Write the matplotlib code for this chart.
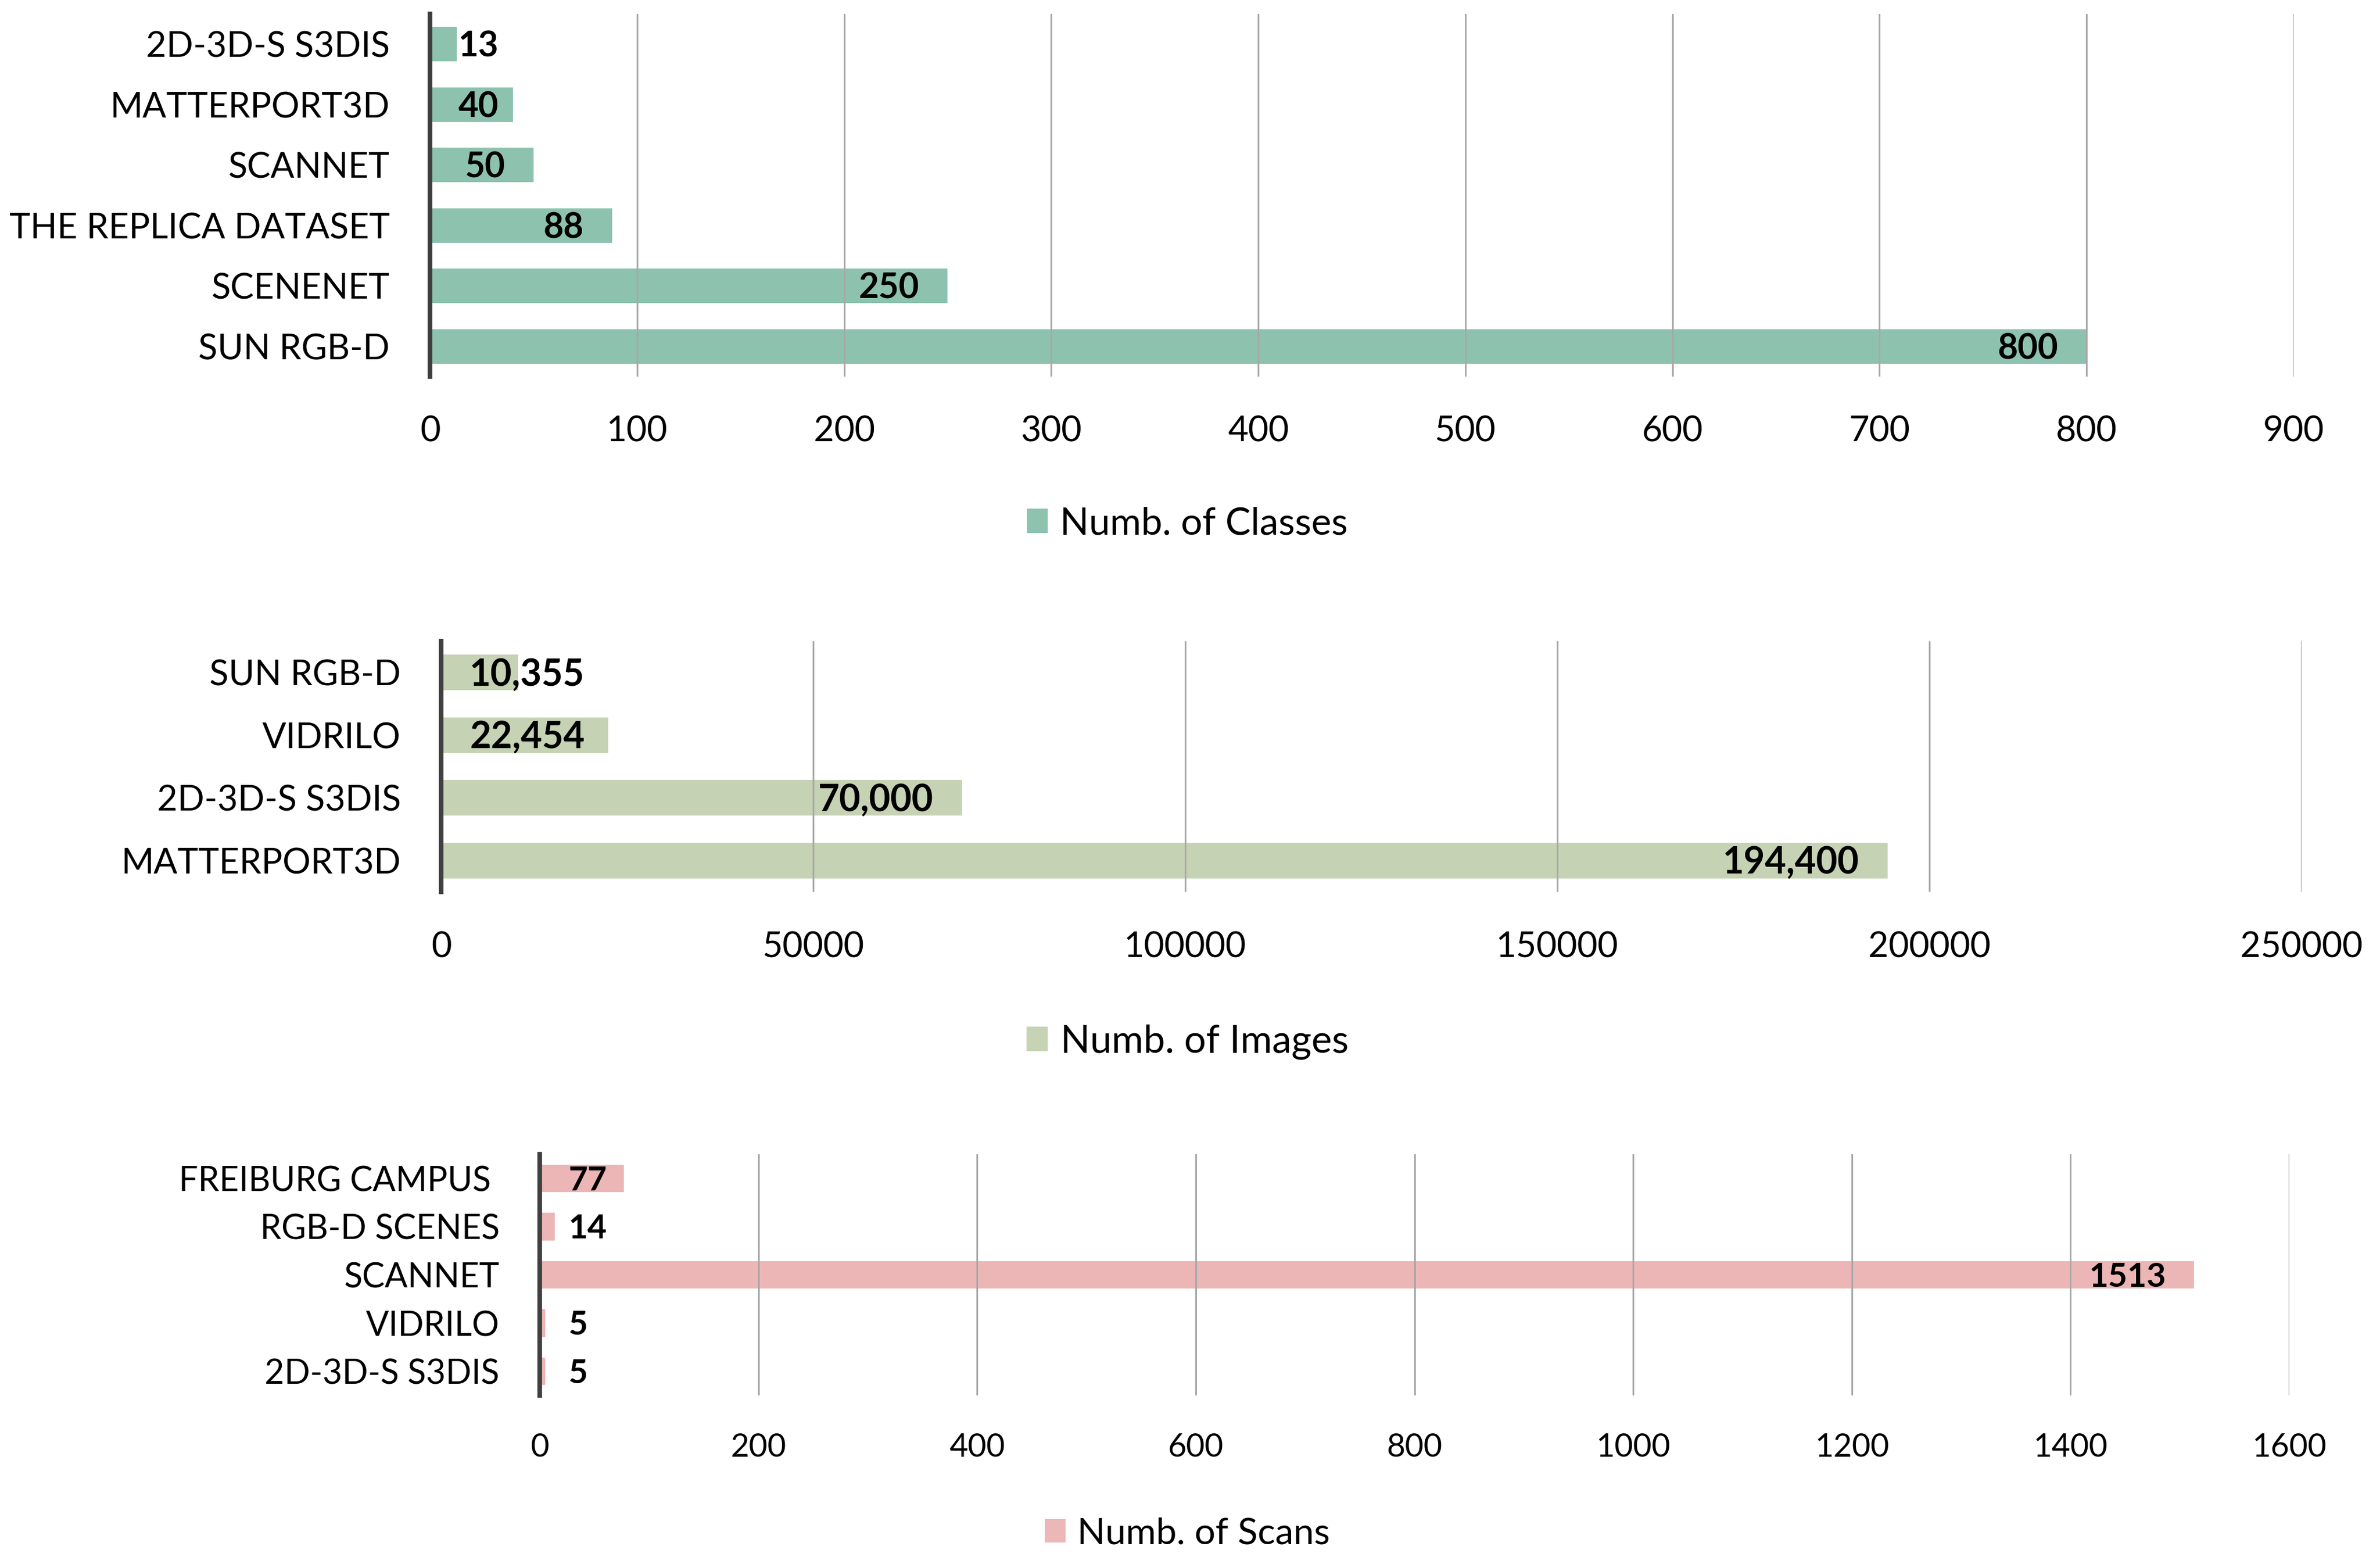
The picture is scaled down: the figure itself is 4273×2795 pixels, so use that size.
import matplotlib
matplotlib.use("Agg")
import matplotlib.pyplot as plt
from matplotlib.patches import Patch
import numpy as np

plt.rcParams['font.family'] = ['Lato', 'DejaVu Sans']

# ---------------- data ----------------
classes_names = ["2D-3D-S S3DIS", "MATTERPORT3D", "SCANNET", "THE REPLICA DATASET", "SCENENET", "SUN RGB-D"]
classes_values = [13, 40, 50, 88, 250, 800]
classes_ticks = [0, 100, 200, 300, 400, 500, 600, 700, 800, 900]

images_names = ["SUN RGB-D", "VIDRILO", "2D-3D-S S3DIS", "MATTERPORT3D"]
images_values = [10355, 22454, 70000, 194400]
images_ticks = [0, 50000, 100000, 150000, 200000, 250000]

scans_names = ["FREIBURG CAMPUS ", "RGB-D SCENES", "SCANNET", "VIDRILO", "2D-3D-S S3DIS"]
scans_values = [77, 14, 1513, 5, 5]
scans_ticks = [0, 200, 400, 600, 800, 1000, 1200, 1400, 1600]

legend_labels = ["Numb. of Classes", "Numb. of Images", "Numb. of Scans"]
colors = ["#8DC3AF", "#C6D3B4", "#ECB7B7"]

W, H = 4273, 2795
DPI = 100
fig = plt.figure(figsize=(W / DPI, H / DPI), dpi=DPI)

ALPHA = 0.85
def base_color(hexc):
    rgb = np.array(matplotlib.colors.to_rgb(hexc))
    c = (rgb - (1 - ALPHA)) / ALPHA
    return tuple(np.clip(c, 0, 1))

panels = [
    dict(names=classes_names, values=classes_values, ticks=classes_ticks,
         box=(772, 4118, 25, 676), fs=45.5, tfs=45.5, lfs=45, gfs=49, xpad=50,
         fmt=lambda v: f"{v}", leg_y=940, leg=legend_labels[0], color=colors[0]),
    dict(names=images_names, values=images_values, ticks=images_ticks,
         box=(792, 4132, 1151, 1601), fs=45.5, tfs=45.5, lfs=47.5, gfs=50, xpad=51,
         fmt=lambda v: f"{v:,}", leg_y=1870, leg=legend_labels[1], color=colors[1]),
    dict(names=scans_names, values=scans_values, ticks=scans_ticks,
         box=(969, 4110, 2072, 2505), fs=43.8, tfs=41.5, lfs=43, gfs=47.5, xpad=48,
         fmt=lambda v: f"{v}", leg_y=2753, leg=legend_labels[2], color=colors[2]),
]

axes = []
for p in panels:
    l, r, t, b = p["box"]
    ax = fig.add_axes([l / W, 1 - b / H, (r - l) / W, (b - t) / H])
    n = len(p["names"])
    pos = np.arange(n)
    ax.barh(pos, p["values"], height=0.57, color=base_color(p["color"]), alpha=ALPHA,
            zorder=1, linewidth=0)
    ax.set_ylim(n - 0.5, -0.5)
    ax.set_xlim(p["ticks"][0], p["ticks"][-1])
    ax.set_yticks(pos)
    ax.set_yticklabels(p["names"], fontsize=p["fs"], color="#000000")
    ax.set_xticks(p["ticks"])
    ax.set_xticklabels([str(t_) for t_ in p["ticks"]], fontsize=p["tfs"], color="#000000")
    ax.tick_params(axis="y", length=0, pad=52)
    ax.tick_params(axis="x", length=0, pad=p["xpad"])
    for s in ["top", "right", "bottom"]:
        ax.spines[s].set_visible(False)
    ax.spines["left"].set_color("#404040")
    ax.spines["left"].set_linewidth(6)
    ax.spines["left"].set_zorder(4)
    ax.set_axisbelow(False)
    ax.xaxis.grid(True, color="#A8A8A8", linewidth=2.2, zorder=0.5)
    ax.yaxis.grid(False)
    axes.append(ax)

    handle = Patch(facecolor=p["color"], edgecolor="none")
    fig.legend(handles=[handle], labels=[p["leg"]], loc="center",
               bbox_to_anchor=(2132 / W, 1 - p["leg_y"] / H), frameon=False,
               fontsize=p["gfs"], handlelength=0.55, handleheight=0.6, handletextpad=0.32)

fig.canvas.draw()
renderer = fig.canvas.get_renderer()
GAP = 51
for ax, p in zip(axes, panels):
    x0 = ax.transAxes.transform((0, 0))[0]
    cap = p["lfs"] * DPI / 72 * 0.7165
    dy = -cap / 2
    for i, v in enumerate(p["values"]):
        txt = p["fmt"](v)
        a = ax.annotate(txt, (v, i), xytext=(-GAP, dy), textcoords="offset pixels",
                        ha="right", va="baseline", fontsize=p["lfs"], fontweight="bold",
                        color="#000000", zorder=5)
        bb = a.get_window_extent(renderer)
        if bb.x0 < x0 + GAP:
            a.remove()
            ax.annotate(txt, (0, i), xytext=(GAP, dy), textcoords="offset pixels",
                        ha="left", va="baseline", fontsize=p["lfs"], fontweight="bold",
                        color="#000000", zorder=5)

fig.savefig("out.png", dpi=DPI, facecolor="white")
